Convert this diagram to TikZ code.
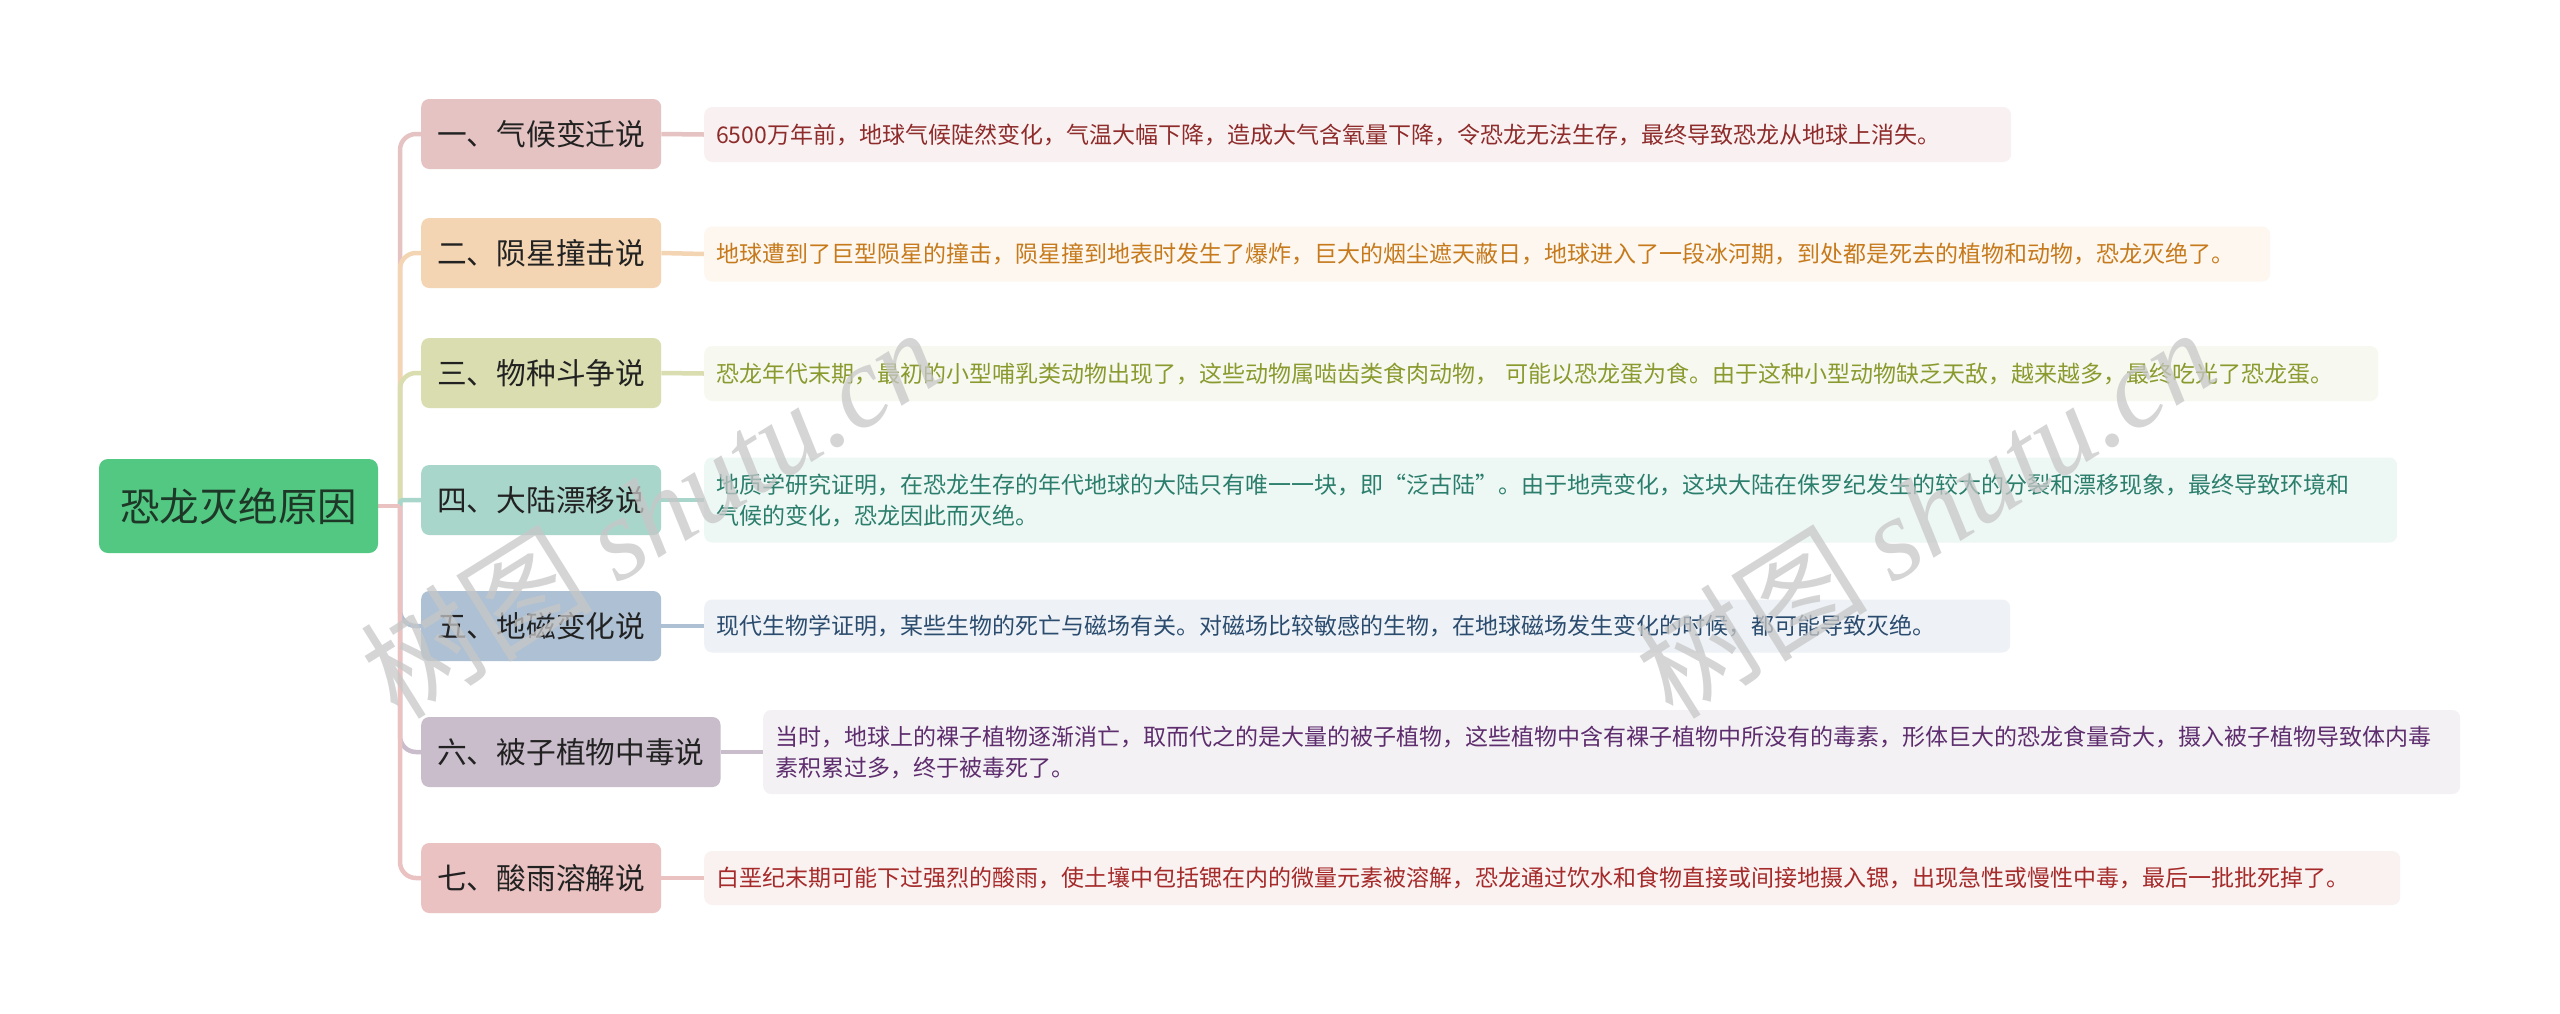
\documentclass[tikz,border=0pt]{standalone}
\usepackage{fontspec}
\setmainfont{Noto Sans CJK SC}
\newfontfamily\wmserif{Liberation Serif}
\usetikzlibrary{backgrounds}
\definecolor{rootc}{HTML}{52C882}
\definecolor{roottext}{HTML}{1E3828}
\definecolor{branchtext}{HTML}{222222}
\definecolor{ca}{HTML}{E6C3C3}\definecolor{fa}{HTML}{F9F1F1}\definecolor{ta}{HTML}{8E2B2B}
\definecolor{cb}{HTML}{F4D5B3}\definecolor{fb}{HTML}{FDF7EF}\definecolor{tb}{HTML}{C67A1C}
\definecolor{cc}{HTML}{DADDAF}\definecolor{fc}{HTML}{F7F8EF}\definecolor{tc}{HTML}{8A9A2E}
\definecolor{cd}{HTML}{A9D6CB}\definecolor{fd}{HTML}{EDF7F4}\definecolor{td}{HTML}{2B7E6C}
\definecolor{ce}{HTML}{AEC0D3}\definecolor{fe}{HTML}{EEF2F6}\definecolor{te}{HTML}{2B4C6E}
\definecolor{cf}{HTML}{C9BCCB}\definecolor{ff}{HTML}{F3F1F4}\definecolor{tf}{HTML}{5E2D6E}
\definecolor{cg}{HTML}{E9C2C1}\definecolor{fg}{HTML}{FAF1F1}\definecolor{tg}{HTML}{A52A2A}
\begin{document}
\begin{tikzpicture}[x=1pt,y=-1pt,
  rootbox/.style={fill=rootc, rounded corners=9pt, minimum width=279pt, minimum height=94pt, inner sep=0pt, font=\fontsize{39.5}{44}\selectfont, text=roottext},
  branchbox/.style={rounded corners=8pt, minimum height=70pt, minimum width=240pt, inner xsep=16pt, inner ysep=0pt, anchor=west, font=\fontsize{29.7}{34}\selectfont, text=branchtext},
  detailbox/.style={rounded corners=8pt, inner xsep=12pt, inner ysep=0pt, align=left, anchor=west, font=\fontsize{23}{31}\selectfont},
  conn/.style={line width=4.5pt},
  wm/.style={rotate=32, text=black!22, opacity=0.75, font=\fontsize{116}{116}\selectfont, inner sep=0pt},
]
\useasboundingbox (0,0) rectangle (2560,1013);

\node[rootbox] (root) at (238.5,506) {恐龙灭绝原因};
\coordinate (s) at (400,506);

\node[branchbox, fill=ca] (b1) at (421,134) {一、气候变迁说};
\node[branchbox, fill=cb] (b2) at (421,253) {二、陨星撞击说};
\node[branchbox, fill=cc] (b3) at (421,373) {三、物种斗争说};
\node[branchbox, fill=cd] (b4) at (421,500) {四、大陆漂移说};
\node[branchbox, fill=ce] (b5) at (421,626) {五、地磁变化说};
\node[branchbox, fill=cf] (b6) at (421,752) {六、被子植物中毒说};
\node[branchbox, fill=cg] (b7) at (421,878) {七、酸雨溶解说};

\node[detailbox, fill=fa, text=ta, text width=1283pt, minimum height=55pt] (d1) at (704,134.5) {6500万年前，地球气候陡然变化，气温大幅下降，造成大气含氧量下降，令恐龙无法生存，最终导致恐龙从地球上消失。};
\node[detailbox, fill=fb, text=tb, text width=1542pt, minimum height=55pt] (d2) at (704,254) {地球遭到了巨型陨星的撞击，陨星撞到地表时发生了爆炸，巨大的烟尘遮天蔽日，地球进入了一段冰河期，到处都是死去的植物和动物，恐龙灭绝了。};
\node[detailbox, fill=fc, text=tc, text width=1650pt, minimum height=55pt] (d3) at (704,373.5) {恐龙年代末期，最初的小型哺乳类动物出现了，这些动物属啮齿类食肉动物， 可能以恐龙蛋为食。由于这种小型动物缺乏天敌，越来越多，最终吃光了恐龙蛋。};
\node[detailbox, fill=fd, text=td, text width=1669pt, minimum height=85pt] (d4) at (704,500) {地质学研究证明，在恐龙生存的年代地球的大陆只有唯一一块，即“泛古陆”。由于地壳变化，这块大陆在侏罗纪发生的较大的分裂和漂移现象，最终导致环境和\\气候的变化，恐龙因此而灭绝。};
\node[detailbox, fill=fe, text=te, text width=1282pt, minimum height=53pt] (d5) at (704,626) {现代生物学证明，某些生物的死亡与磁场有关。对磁场比较敏感的生物，在地球磁场发生变化的时候，都可能导致灭绝。};
\node[detailbox, fill=ff, text=tf, text width=1673pt, minimum height=84pt] (d6) at (763,752) {当时，地球上的裸子植物逐渐消亡，取而代之的是大量的被子植物，这些植物中含有裸子植物中所没有的毒素，形体巨大的恐龙食量奇大，摄入被子植物导致体内毒\\素积累过多，终于被毒死了。};
\node[detailbox, fill=fg, text=tg, text width=1672pt, minimum height=54pt] (d7) at (704,878) {白垩纪末期可能下过强烈的酸雨，使土壤中包括锶在内的微量元素被溶解，恐龙通过饮水和食物直接或间接地摄入锶，出现急性或慢性中毒，最后一批批死掉了。};

\begin{scope}[on background layer]
  \fill[white] (0,0) rectangle (2560,1013);
  \draw[conn, ca, rounded corners=16pt] (s) |- (b1.west);
  \draw[conn, cb, rounded corners=16pt] (s) |- (b2.west);
  \draw[conn, cc, rounded corners=16pt] (s) |- (b3.west);
  \draw[conn, cd, rounded corners=3pt] (s) |- (b4.west);
  \draw[conn, ce, rounded corners=16pt] (s) |- (b5.west);
  \draw[conn, cf, rounded corners=16pt] (s) |- (b6.west);
  \draw[conn, cg, rounded corners=16pt] (s) |- (b7.west);
  \draw[conn, cg] (root.east) -- (s);
  \draw[conn, ca] (b1.east) -- (d1.west);
  \draw[conn, cb] (b2.east) -- (d2.west);
  \draw[conn, cc] (b3.east) -- (d3.west);
  \draw[conn, cd] (b4.east) -- (d4.west);
  \draw[conn, ce] (b5.east) -- (d5.west);
  \draw[conn, cf] (b6.east) -- (d6.west);
  \draw[conn, cg] (b7.east) -- (d7.west);
\end{scope}

\node[wm] (wm1) at (650,512) {树图 {\wmserif\itshape shutu.cn}};
\node[wm] (wm2) at (1925,512) {树图 {\wmserif\itshape shutu.cn}};
\end{tikzpicture}
\end{document}
